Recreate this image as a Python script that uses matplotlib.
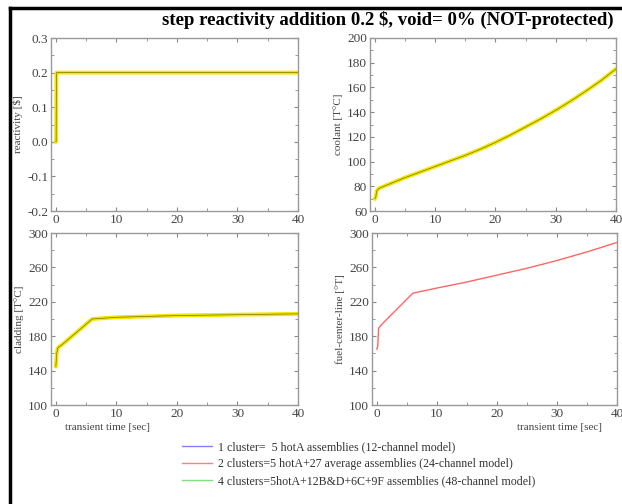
import numpy as np
import matplotlib.pyplot as plt
from matplotlib.lines import Line2D
from matplotlib.ticker import MultipleLocator, FixedLocator

plt.rcParams['font.family'] = ['Liberation Serif', 'DejaVu Serif']

# time points [sec]
t_react = [0.0, 0.05, 0.1, 40.0]
reactivity = [0.0, 0.0, 0.2, 0.2]

t_cool = [0.0, 0.15, 0.3, 0.6, 1, 3, 5, 7.5, 10, 12.5, 15, 17.5, 20, 22.5, 25,
          27.5, 30, 32.5, 35, 37.5, 40]
coolant = [70, 71, 76, 78, 79, 83, 87, 91.5, 96, 100.5, 105, 110, 115.5, 121.5, 128,
           134.5, 141.5, 149, 157, 165.5, 175]

t_clad = [0.0, 0.15, 0.3, 0.6, 1, 3, 6, 8, 10, 20, 30, 40]
cladding = [145, 160, 166, 168, 170, 182, 200, 201, 202, 204, 205, 206]

t_fuel = [0.0, 0.15, 0.3, 0.6, 1, 3, 6, 8, 10, 15, 20, 25, 30, 35, 40]
fuel = [165, 168, 189, 192, 195, 209, 230, 233, 236, 243, 251, 259, 268, 278, 289]

legend_labels = ['1 cluster=  5 hotA assemblies (12-channel model)',
                 '2 clusters=5 hotA+27 average assemblies (24-channel model)',
                 '4 clusters=5hotA+12B&D+6C+9F assemblies (48-channel model)']
legend_colors = ['#8080ff', '#ff8080', '#80e080']

fig = plt.figure(figsize=(6.22, 5.04), dpi=100)
W, H = 622, 504


def add_ax(x0, x1, y0, y1):
    return fig.add_axes([x0 / W, 1 - y1 / H, (x1 - x0) / W, (y1 - y0) / H])


ax1 = add_ax(51, 298, 38, 211)
ax2 = add_ax(370, 616, 38, 211)
ax3 = add_ax(51, 298, 233, 405)
ax4 = add_ax(372, 617, 233, 405)

gray = '#888888'
for ax in (ax1, ax2, ax3, ax4):
    ax.set_xlim(-0.8, 40)
    ax.xaxis.set_major_locator(MultipleLocator(10))
    ax.xaxis.set_minor_locator(MultipleLocator(5))
    ax.tick_params(which='both', direction='in', top=True, right=True,
                   colors=gray, labelcolor='#444444', labelsize=9.5)
    ax.tick_params(which='major', length=3, pad=2)
    ax.tick_params(which='minor', length=2)
    for s in ax.spines.values():
        s.set_color('#999999')
        s.set_linewidth(1.0)


def yellow_line(ax, x, y):
    ax.plot(x, y, color='#f2e600', lw=2.8, solid_joinstyle='round')
    ax.plot(x, y, color='#7a7600', lw=0.5)


yellow_line(ax1, t_react, reactivity)
ax1.set_ylim(-0.2, 0.3)
ax1.yaxis.set_major_locator(FixedLocator([-0.2, -0.1, 0.0, 0.1, 0.2, 0.3]))
ax1.yaxis.set_minor_locator(FixedLocator([-0.15, -0.05, 0.05, 0.15, 0.25]))
ax1.set_yticklabels(['-0.2', '-0.1', '0.0', '0.1', '0.2', '0.3'])
ax1.set_ylabel(r'reactivity [\$]', fontsize=8, color='#444444', labelpad=3)

yellow_line(ax2, t_cool, coolant)
ax2.set_ylim(60, 200)
ax2.yaxis.set_major_locator(MultipleLocator(20))
ax2.yaxis.set_minor_locator(MultipleLocator(10))
ax2.set_ylabel('coolant [T°C]', fontsize=8, color='#444444', labelpad=3)

temp_ticks = [100, 140, 180, 220, 260, 300]
temp_minor = [120, 160, 200, 240, 280]

yellow_line(ax3, t_clad, cladding)
ax3.set_ylim(100, 300)
ax3.yaxis.set_major_locator(FixedLocator(temp_ticks))
ax3.yaxis.set_minor_locator(FixedLocator(temp_minor))
ax3.set_ylabel('cladding [T°C]', fontsize=8, color='#444444', labelpad=3)

ax4.plot(t_fuel, fuel, color='#ff6666', lw=1.0)
ax4.set_ylim(100, 300)
ax4.yaxis.set_major_locator(FixedLocator(temp_ticks))
ax4.yaxis.set_minor_locator(FixedLocator(temp_minor))
ax4.set_ylabel('fuel-center-line [°T]', fontsize=8, color='#444444', labelpad=3)

fig.text(65 / W, 1 - 428 / H, 'transient time [sec]', fontsize=8,
         color='#444444', ha='left', va='center')
fig.text(602 / W, 1 - 428 / H, 'transient time [sec]', fontsize=8,
         color='#444444', ha='right', va='center')

fig.text(388 / W, 1 - 20 / H, r'step reactivity addition 0.2 \$, void= 0% (NOT-protected)',
         fontsize=13.5, fontweight='bold', ha='center', va='center')

# legend
handles = [Line2D([0], [0], color=c, lw=1.0) for c in legend_colors]
fig.legend(handles, legend_labels, loc='upper left',
           bbox_to_anchor=(174 / W, 1 - 433 / H), frameon=False,
           fontsize=8.6, handlelength=2.5, handletextpad=0.5,
           labelspacing=0.4, labelcolor='#333333', borderpad=0.2)

# outer frame
fig.add_artist(Line2D([10 / W, 10 / W], [0, 1 - 8 / H], color='black', lw=2.5,
                      transform=fig.transFigure))
fig.add_artist(Line2D([10 / W, 1], [1 - 8 / H, 1 - 8 / H], color='black', lw=2.5,
                      transform=fig.transFigure))

fig.savefig('out.png', dpi=100)
